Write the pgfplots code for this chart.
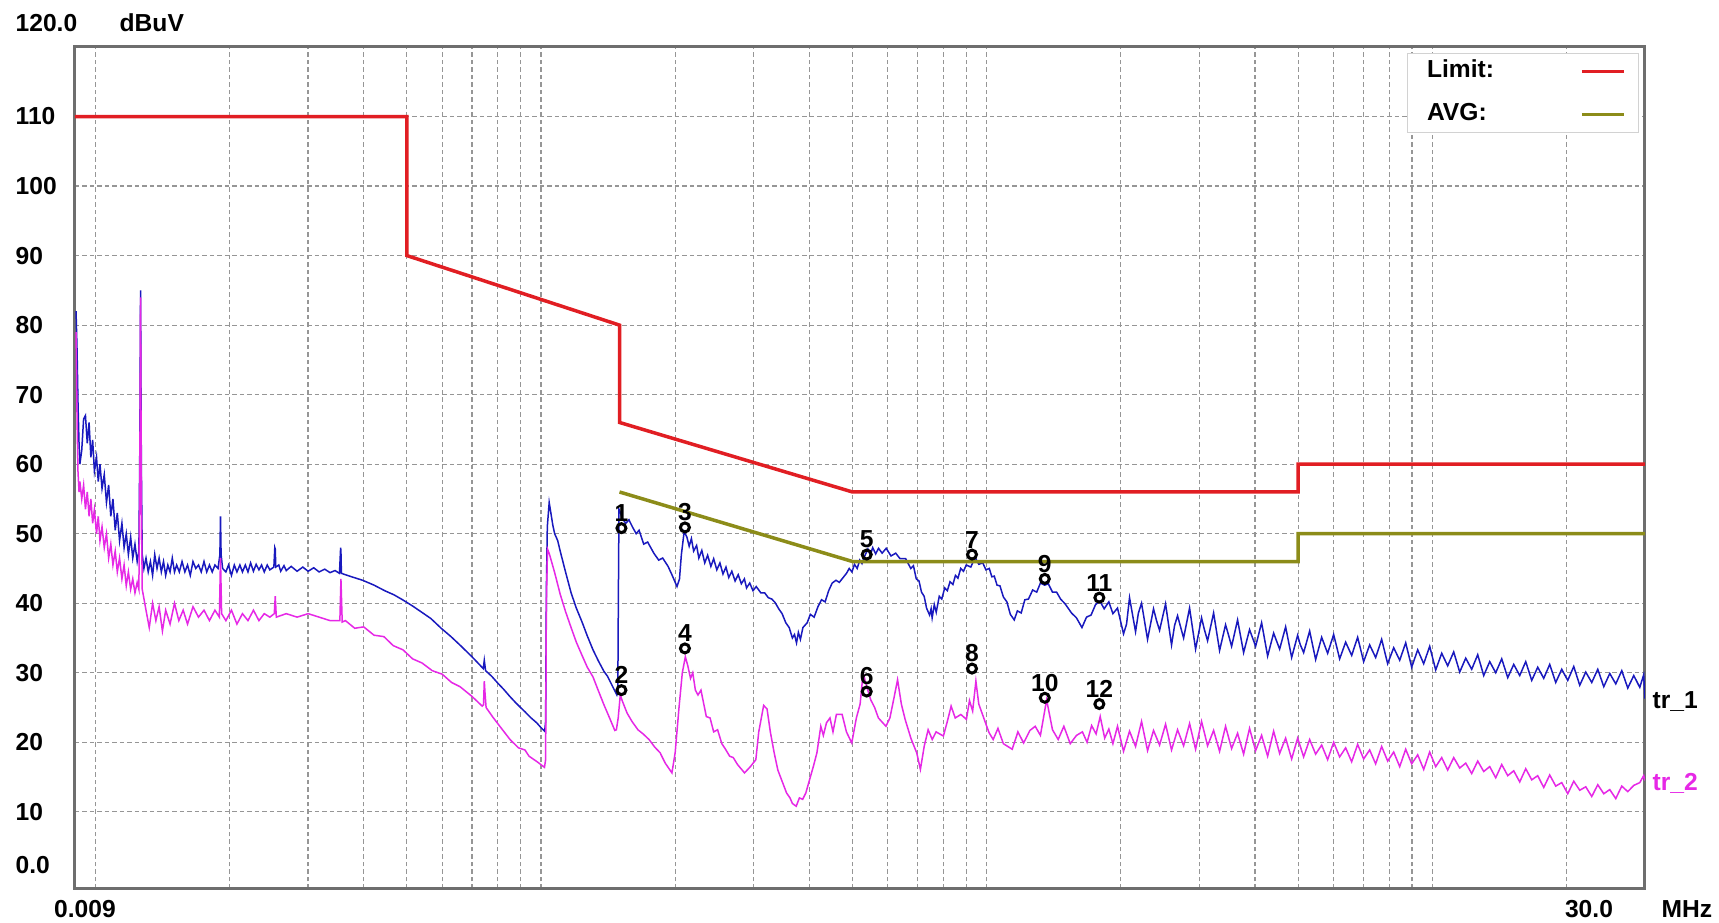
\documentclass[border=0pt]{standalone}
\usepackage{pgfplots}
\pgfplotsset{compat=1.18}
\usepackage{fontspec}
\setmainfont{Liberation Sans}
\definecolor{limitred}{RGB}{225,30,35}
\definecolor{avgolive}{RGB}{140,140,25}
\definecolor{trblue}{RGB}{25,25,190}
\definecolor{trmag}{RGB}{230,40,230}
\definecolor{framegray}{RGB}{110,110,110}
\definecolor{gridgray}{RGB}{150,150,150}
\definecolor{leggray}{RGB}{210,210,210}
\newcommand{\lbl}{\bfseries\fontsize{7pt}{8.4pt}\selectfont}

\pgfplotstableread{
f dB
0.00905 82
0.0091 76
0.00914 69
0.00919 63
0.00923 60
0.00932 62
0.00941 66.5
0.0095 67
0.00959 63
0.00968 66
0.00977 61
0.00986 63.5
0.00995 59
0.01006 61
0.01015 57.5
0.01024 60
0.01035 56.5
0.01047 58.5
0.01059 54.5
0.01071 57
0.01083 52.5
0.01095 55
0.01108 50.5
0.0112 53
0.01133 49
0.01147 51.5
0.0116 48
0.01173 50
0.01186 47
0.012 49.5
0.01213 46.5
0.01227 48.5
0.01241 46
0.01252 47.5
0.01258 62
0.01263 85
0.01268 60
0.01274 47
0.01285 45
0.01299 46.5
0.01314 44.5
0.01329 46
0.01344 44
0.01359 47
0.01375 45
0.0139 46.5
0.01406 44.5
0.01422 46
0.01438 44
0.01454 45.5
0.01471 44.5
0.01488 46.5
0.01505 44.5
0.01522 45.5
0.01543 44.5
0.01565 46
0.01588 44.5
0.0161 45.5
0.01633 44
0.01656 46
0.0168 45
0.01704 45.5
0.01728 44.5
0.01753 46
0.01778 44.5
0.01803 45.5
0.01829 44.5
0.01855 45.5
0.01885 45
0.01903 47
0.01909 52.5
0.01915 47
0.0193 45
0.01963 44.5
0.0199 45.5
0.0202 44
0.0205 45.5
0.02078 44.5
0.0211 45.5
0.02138 44.5
0.0217 45.5
0.022 44.5
0.0223 45.8
0.02263 44.6
0.02295 45.6
0.02328 44.8
0.0236 45.5
0.02393 44.5
0.0243 45.5
0.02463 44.8
0.02515 45.2
0.02527 48
0.02533 47.8
0.0254 45.2
0.0258 45.5
0.02605 44.6
0.0265 45.4
0.02681 44.7
0.0275 45.3
0.02836 44.6
0.0292 45.2
0.03002 44.6
0.0309 45.1
0.03178 44.5
0.0327 44.9
0.03362 44.4
0.0345 44.7
0.0353 44.3
0.03551 48
0.03557 47.5
0.03565 44.3
0.0376 43.8
0.0398 43.3
0.0422 42.6
0.0446 41.8
0.0468 41.2
0.0489 40.5
0.0515 39.6
0.054 38.7
0.0566 37.8
0.0597 36.4
0.0628 35.2
0.066 33.9
0.07 32.3
0.0742 30.6
0.0746 31.8
0.0751 30.3
0.0775 29.5
0.08 28.5
0.0825 27.6
0.0851 26.6
0.088 25.6
0.092 24.4
0.095 23.5
0.0978 22.8
0.1 22.1
0.1019 21.6
0.1024 23
0.1028 42
0.1033 51
0.1043 54.5
0.1052 53
0.1063 51.2
0.1073 50
0.109 49
0.1104 47.5
0.1135 44.5
0.1168 41.5
0.12 39.3
0.1236 37.3
0.127 35.3
0.1308 33.3
0.1345 31.7
0.1384 30.2
0.141 29.5
0.1448 28
0.148 26.8
0.1487 27.2
0.1491 40
0.1496 53.5
0.1508 53
0.152 52.2
0.155 51.5
0.1575 52
0.1603 51
0.1635 50
0.166 50.5
0.17 48.5
0.1735 48.8
0.1791 47.2
0.1837 46.2
0.1875 46.5
0.1928 45.3
0.197 44
0.2019 42.4
0.2045 43.5
0.2065 47
0.2095 50.3
0.2125 49.5
0.215 48.2
0.2175 49.3
0.22 47.5
0.2234 48.3
0.226 46.5
0.2295 47.6
0.233 45.8
0.2365 46.9
0.2405 45.3
0.244 46.4
0.248 44.8
0.252 45.8
0.256 44.2
0.26 45.2
0.2638 43.7
0.268 44.6
0.2725 43.2
0.277 44.1
0.2815 42.8
0.286 43.5
0.2892 42.2
0.294 42.9
0.299 41.8
0.304 42.4
0.3113 41.5
0.3175 41.5
0.3235 40.8
0.3295 40.6
0.3352 40.1
0.3415 39.2
0.3475 38.5
0.3541 37.2
0.3605 36.5
0.3665 35.0
0.3705 35.5
0.3744 34.3
0.378 35.8
0.382 34.8
0.387 36.5
0.3957 37.2
0.402 38.4
0.41 38.0
0.4182 39.5
0.426 40.5
0.434 40.2
0.442 41.8
0.4501 42.9
0.459 43.3
0.467 43.0
0.4846 44.3
0.4915 45.0
0.4985 44.5
0.505 45.6
0.5122 45.0
0.519 46.2
0.525 45.7
0.5325 46.8
0.5414 47.8
0.548 46.9
0.555 48.0
0.5635 47.1
0.572 47.9
0.5826 47.2
0.595 47.9
0.61 46.8
0.625 47.2
0.6392 46.4
0.658 46.4
0.6756 45.0
0.685 45.4
0.695 43.5
0.705 43.2
0.714 41.6
0.724 41.0
0.733 39.3
0.7445 38.3
0.7505 39.2
0.7545 37.9
0.763 39.8
0.7705 38.7
0.7828 41.0
0.793 40.6
0.805 42.2
0.816 41.8
0.8275 43.1
0.84 42.7
0.851 44.0
0.862 43.6
0.8743 45.0
0.887 44.6
0.9 45.5
0.9214 45.2
0.9414 46.6
0.96 45.6
0.98 45.8
0.996 44.8
1.0135 45.0
1.027 43.8
1.04 43.9
1.055 42.6
1.071 42.5
1.09 40.9
1.11 40.2
1.13 38.4
1.153 37.6
1.172 38.9
1.195 38.6
1.218 40.5
1.241 40.6
1.268 41.9
1.295 41.6
1.32 42.9
1.349 42.6
1.375 42.8
1.405 41.6
1.435 41.6
1.465 40.6
1.5 39.9
1.55 38.6
1.59 37.9
1.636 36.5
1.675 38.0
1.715 38.3
1.755 39.8
1.795 40.3
1.835 39.2
1.88 40.2
1.92 38.5
1.966 39.3
2.028 35.6
2.060 37.0
2.092 40.8
2.158 35.9
2.19 38.6
2.226 40.0
2.296 34.8
2.368 39.2
2.405 37.5
2.443 36.1
2.520 39.9
2.599 34.0
2.64 36.8
2.681 38.2
2.766 35.0
2.853 39.3
2.943 33.4
3.035 37.9
3.08 36.2
3.131 34.6
3.230 38.6
3.331 33.2
3.436 36.9
3.49 35.4
3.545 33.8
3.656 37.6
3.772 32.9
3.890 36.2
4.013 33.8
4.139 37.2
4.270 32.4
4.404 35.7
4.543 33.4
4.686 36.6
4.834 32.2
4.986 35.4
5.05 34.1
5.143 32.9
5.305 36.0
5.472 31.9
5.645 35.1
5.822 32.8
6.006 35.5
6.195 32.0
6.390 34.4
6.592 32.5
6.799 35.1
7.013 31.6
7.234 34.0
7.462 32.2
7.697 34.8
7.940 31.3
8.190 33.6
8.448 31.8
8.714 34.3
8.988 30.8
9.271 33.3
9.563 31.3
9.864 33.8
10.175 30.4
10.496 32.8
10.826 31.0
11.167 33.0
11.519 30.1
11.882 32.1
12.256 30.5
12.642 32.6
13.040 29.6
13.451 31.6
13.875 30.0
14.312 32.0
14.763 29.3
15.228 31.2
15.707 29.6
16.202 31.6
16.712 28.9
17.239 30.8
17.782 29.2
18.342 31.2
18.919 28.6
19.515 30.5
20.130 28.9
20.764 30.9
21.418 28.2
22.093 30.1
22.789 28.6
23.507 30.5
24.247 28.0
25.011 29.9
25.798 28.4
26.611 30.3
27.449 27.8
28.314 29.6
29.206 27.9
29.8 29.7
30.0 26.3
}\traceone

\pgfplotstableread{
f dB
0.00905 79
0.0091 66
0.00914 59
0.00919 56
0.00923 57.5
0.00932 55
0.00941 57
0.0095 53.5
0.00959 56
0.00968 52.5
0.00977 55
0.00986 51.5
0.00995 53.5
0.01006 50
0.01015 52.5
0.01024 49
0.01035 51
0.01047 48
0.01059 50
0.01071 46.5
0.01083 48.5
0.01095 45.5
0.01108 47.5
0.0112 44.5
0.01133 46.5
0.01147 43.5
0.0116 45.5
0.01173 42.5
0.01186 44.5
0.012 42
0.01213 43.5
0.01227 41.5
0.01241 43
0.01252 42
0.01258 58
0.01263 84
0.01268 55
0.01274 42
0.01299 39
0.01321 36.5
0.01344 40
0.01367 37.5
0.0139 39.5
0.01414 36
0.01438 39
0.01471 37
0.01505 40
0.01539 37.5
0.01574 39
0.0161 37
0.01656 39.5
0.01704 38
0.01753 39
0.01803 37.5
0.01855 39
0.01898 38
0.01909 46.5
0.0192 38.5
0.01963 37.5
0.0202 39
0.02078 37
0.02138 38.5
0.0220 37.5
0.02263 39
0.02328 37.5
0.02393 38.5
0.02463 38
0.0252 38.5
0.02533 41
0.02547 38
0.02681 38.5
0.02836 38
0.03002 38.5
0.03178 38
0.03362 37.5
0.03537 37.5
0.03557 43.5
0.0358 37.3
0.0364 37.5
0.0382 36.4
0.04 36.6
0.0422 35.4
0.0444 35.2
0.0466 33.9
0.049 33.3
0.0515 32.0
0.0541 31.4
0.057 30.3
0.06 29.8
0.063 28.6
0.0658 28
0.07 26.6
0.0738 25.2
0.0743 25.4
0.0746 28.8
0.0749 27
0.0753 25
0.078 23.6
0.0815 22.0
0.0852 20.4
0.089 19.2
0.092 18.9
0.094 18.0
0.098 17.2
0.1018 16.4
0.1024 17.5
0.1028 40
0.1034 47.8
0.1045 47
0.1073 44.4
0.1104 41.3
0.1135 38.8
0.1168 36.5
0.12 34.4
0.1236 32.5
0.127 30.8
0.1308 29.4
0.1345 27.4
0.1384 25.4
0.1425 23.5
0.1464 21.7
0.1476 21.8
0.149 23.5
0.1506 26.8
0.1525 25.8
0.156 24.2
0.16 23.0
0.165 21.8
0.1695 21.2
0.1747 20.4
0.18 19.3
0.185 18.5
0.19 17.0
0.1967 15.6
0.2 18.5
0.204 25
0.2075 30
0.2108 32.3
0.2135 31
0.2165 29.2
0.219 30
0.222 27.5
0.225 26.8
0.2285 27.5
0.2349 23.7
0.2395 23.5
0.244 21.5
0.249 21.8
0.2545 19.8
0.2594 19.0
0.265 18.0
0.27 17.8
0.276 16.8
0.2862 15.6
0.295 16.5
0.3034 17.5
0.308 21.5
0.3159 25.3
0.3215 24.8
0.327 21.5
0.3335 18.5
0.34 16.0
0.347 14.5
0.3557 12.7
0.362 12.0
0.3665 11.2
0.3738 10.8
0.38 12.0
0.3865 11.8
0.3928 12.7
0.4 14.5
0.4087 16.6
0.416 18.5
0.4244 22.3
0.43 21.0
0.437 22.8
0.445 23.5
0.452 21.5
0.46 24.0
0.4738 24.0
0.4845 21.5
0.498 19.9
0.51 23.5
0.52 25.5
0.5282 30
0.538 28.0
0.5494 26.1
0.5605 25.0
0.5715 23.5
0.5942 22.3
0.6065 23.5
0.62 26.5
0.631 29
0.6435 25.5
0.6561 23.3
0.6766 20.5
0.6966 18.5
0.7101 16.1
0.7245 19.5
0.739 21.8
0.755 20.4
0.77 21.5
0.7997 20.9
0.816 23
0.8321 25.2
0.85 23.5
0.875 24
0.9005 23.3
0.915 26
0.93 24.5
0.9458 28.8
0.96 25.5
0.9938 22.8
1.012 21.4
1.034 20.4
1.06 22.0
1.09 19.8
1.141 19.0
1.175 21.5
1.21 19.9
1.25 21.7
1.285 22.3
1.32 21
1.363 26.1
1.405 21.8
1.447 20.4
1.49 22.3
1.54 19.8
1.591 21
1.64 21.5
1.68 20
1.72 22.4
1.76 21.2
1.798 23.7
1.84 20.6
1.88 21.9
1.92 19.8
1.966 22.3
2.028 18.7
2.092 21.6
2.158 19.4
2.226 23.0
2.296 18.8
2.368 21.7
2.443 19.6
2.520 22.6
2.599 18.9
2.681 21.8
2.766 19.5
2.853 22.7
2.943 19.0
3.035 23.0
3.131 19.5
3.230 21.7
3.331 18.7
3.436 22.3
3.545 19.1
3.656 21.3
3.772 18.3
3.890 22.0
4.013 18.8
4.139 21.0
4.270 18.0
4.404 21.6
4.543 18.4
4.686 20.6
4.834 17.6
4.986 20.6
5.143 17.9
5.305 20.4
5.472 18.3
5.645 19.6
5.822 17.5
6.006 20.0
6.195 17.9
6.390 19.2
6.592 17.2
6.799 19.7
7.013 17.6
7.234 18.9
7.462 16.9
7.697 19.4
7.940 17.3
8.190 18.6
8.448 16.5
8.714 19.0
8.988 16.9
9.271 18.2
9.563 16.1
9.864 18.6
10.175 16.5
10.496 17.8
10.826 16.0
11.167 17.8
11.519 16.3
11.882 17.0
12.256 15.5
12.642 17.3
13.040 15.8
13.451 16.5
13.875 14.9
14.312 16.8
14.763 15.2
15.228 15.9
15.707 14.3
16.202 16.2
16.712 14.6
17.239 15.2
17.782 13.5
18.342 15.3
18.919 13.7
19.515 14.2
20.130 12.6
20.764 14.4
21.418 13.1
22.093 13.6
22.789 12.2
23.507 13.9
24.247 12.6
25.011 13.2
25.798 11.9
26.611 13.7
27.449 12.9
28.314 13.8
29.206 14.2
29.8 15.2
30.0 14.5
}\tracetwo

\begin{document}
\begin{tikzpicture}
\useasboundingbox (0,0) rectangle (171.9mm,92.3mm);
\fill[white] (0,0) rectangle (171.9mm,92.3mm);
\begin{axis}[
  at={(7.5mm,3.4mm)}, anchor=south west,
  scale only axis, width=157mm, height=84.2mm,
  xmode=log, xmin=0.009, xmax=30, ymin=-1.1, ymax=120,
  xtick={0.01,0.1,1,10},
  minor xtick={0.02,0.03,0.04,0.05,0.06,0.07,0.08,0.09,0.2,0.3,0.4,0.5,0.6,0.7,0.8,0.9,2,3,4,5,6,7,8,9,20},
  xticklabels={},
  ytick={10,20,30,40,50,60,70,80,90,100,110},
  yticklabels={10,20,30,40,50,60,70,80,90,100,110},
  yticklabel style={font=\lbl, anchor=west, xshift=-6mm, inner sep=0pt},
  major tick length=0pt, minor tick length=0pt,
  xmajorgrids, xminorgrids, ymajorgrids,
  major grid style={gridgray, line width=0.12mm, dash pattern=on 0.45mm off 0.3mm},
  minor grid style={gridgray, line width=0.12mm, dash pattern=on 0.45mm off 0.3mm},
  axis line style={framegray, line width=0.3mm},
  legend plot pos=right,
  legend image code/.code={\draw[#1] (0mm,0mm) -- (4.2mm,0mm);},
  legend style={at={(0.9962,0.9929)}, anchor=north east, draw=leggray, line width=0.1mm,
    fill=white, font=\lbl, inner xsep=1.3mm, inner ysep=0.35mm, row sep=1.4mm,
    column sep=7.9mm, nodes={inner xsep=0.7mm, inner ysep=0.3mm}, cells={anchor=west}},
]
\addplot[trblue, line width=0.15mm, forget plot] table[x=f, y=dB] {\traceone};
\addplot[trmag, line width=0.15mm, forget plot] table[x=f, y=dB] {\tracetwo};
\addplot[limitred, line width=0.35mm] coordinates {(0.009,110) (0.05,110) (0.05,90) (0.15,80) (0.15,66) (0.5,56) (5,56) (5,60) (30,60)};
\addlegendentry{Limit:}
\addplot[avgolive, line width=0.35mm] coordinates {(0.15,56) (0.5,46) (5,46) (5,50) (30,50)};
\addlegendentry{AVG:}
\addplot[only marks, mark=o, mark size=0.45mm, mark options={line width=0.3mm, black}, forget plot,
  nodes near coords, point meta=explicit symbolic,
  every node near coord/.append style={font=\lbl, black, anchor=south, inner sep=0.3mm, yshift=0.2mm}]
  table[x=f, y=y, meta=lab] {
f y lab
0.1515 50.8 1
0.1515 27.5 2
0.2103 50.9 3
0.2103 33.5 4
0.538 47.0 5
0.538 27.3 6
0.927 47.0 7
0.927 30.6 8
1.35 43.5 9
1.35 26.4 10
1.79 40.8 11
1.79 25.5 12
};
\end{axis}
\node[anchor=west, font=\lbl, inner sep=0pt] at (1.5mm,90.0mm) {120.0};
\node[anchor=west, font=\lbl, inner sep=0pt] at (11.9mm,90.0mm) {dBuV};
\node[anchor=west, font=\lbl, inner sep=0pt] at (1.5mm,5.8mm) {0.0};
\node[font=\lbl, inner sep=0pt] at (8.5mm,1.4mm) {0.009};
\node[font=\lbl, inner sep=0pt] at (158.9mm,1.4mm) {30.0};
\node[font=\lbl, inner sep=0pt] at (168.7mm,1.4mm) {MHz};
\node[anchor=west, font=\lbl, inner sep=0pt] at (165.2mm,22.1mm) {tr\_1};
\node[anchor=west, font=\lbl, inner sep=0pt, text=trmag] at (165.2mm,14.0mm) {tr\_2};
\end{tikzpicture}
\end{document}
